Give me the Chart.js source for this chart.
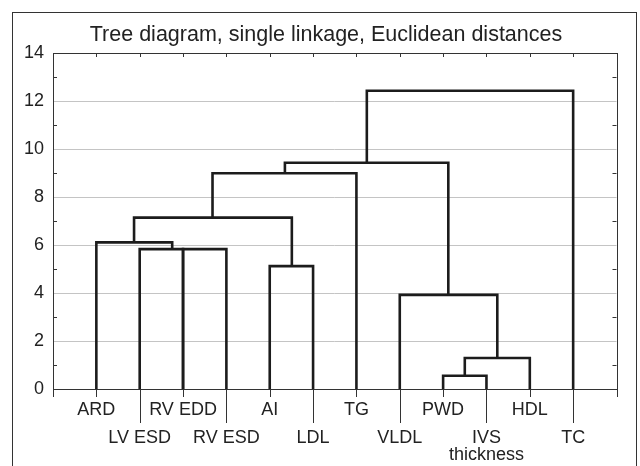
<!DOCTYPE html>
<html>
<head>
<meta charset="utf-8">
<script src="https://cdn.jsdelivr.net/npm/chart.js@4/dist/chart.umd.min.js"></script>
<style>
  html, body { margin: 0; padding: 0; background: #fff; }
  #wrap { width: 640px; height: 466px; }
</style>
</head>
<body>
<div id="wrap"><canvas id="tree" width="640" height="466"></canvas></div>
<script>
const TITLE = "Tree diagram, single linkage, Euclidean distances";
const leafLabels = ["ARD", "LV ESD", "RV EDD", "RV ESD", "AI", "LDL", "TG", "VLDL", "PWD", ["IVS", "thickness"], "HDL", "TC"];
const leafRow = [0, 1, 0, 1, 0, 1, 0, 1, 0, 1, 0, 1];
const yTicks = [0, 2, 4, 6, 8, 10, 12, 14];

// each merge: left/right x (leaf index, or cluster join point), join height, and heights the legs start from
const mergeLeft = [9, 9.5, 8, 2, 3, 1, 5, 1.87, 3.68, 5.35, 7.24];
const mergeRight = [10, 11, 10.25, 3, 4, 2.75, 6, 5.51, 7, 9.12, 12];
const mergeHeight = [0.55, 1.29, 3.92, 5.83, 5.83, 6.11, 5.12, 7.14, 8.99, 9.43, 12.43];
const mergeLeftBase = [0, 0.55, 0, 0, 0, 0, 0, 6.11, 7.14, 8.99, 9.43];
const mergeRightBase = [0, 0, 1.29, 0, 0, 5.83, 0, 5.12, 0, 3.92, 0];

const FONT = '"Liberation Sans", Arial, Helvetica, sans-serif';
const INK = "#222";

const datasets = mergeLeft.map((xl, i) => ({
  data: [
    { x: xl, y: mergeLeftBase[i] },
    { x: xl, y: mergeHeight[i] },
    { x: mergeRight[i], y: mergeHeight[i] },
    { x: mergeRight[i], y: mergeRightBase[i] }
  ],
  showLine: true,
  borderColor: "#1c1c1c",
  borderWidth: 2.6,
  pointRadius: 0,
  tension: 0,
  clip: false
}));

const decor = {
  id: "decor",
  afterDraw(chart) {
    const { ctx, chartArea: a, scales: { x, y } } = chart;
    ctx.save();
    // outer frame
    ctx.strokeStyle = "#333";
    ctx.lineWidth = 1;
    ctx.strokeRect(12.5, 12.5, 624, 480);
    // plot frame
    ctx.strokeRect(Math.round(a.left) + 0.5, Math.round(a.top) + 0.5, Math.round(a.right - a.left), Math.round(a.bottom - a.top));

    ctx.beginPath();
    // minor inward ticks on left/right at odd values
    for (let v = 1; v < 14; v += 2) {
      const py = Math.round(y.getPixelForValue(v)) + 0.5;
      ctx.moveTo(a.left, py); ctx.lineTo(a.left + 4, py);
      ctx.moveTo(a.right, py); ctx.lineTo(a.right - 4, py);
    }
    // top inward ticks at leaves
    leafLabels.forEach((_, i) => {
      const px = Math.round(x.getPixelForValue(i + 1)) + 0.5;
      ctx.moveTo(px, a.top); ctx.lineTo(px, a.top + 4);
    });
    // bottom outward ticks
    [0, 13].forEach(v => {
      const px = Math.round(x.getPixelForValue(v)) + 0.5;
      ctx.moveTo(px, a.bottom); ctx.lineTo(px, a.bottom + 8);
    });
    leafLabels.forEach((_, i) => {
      const px = Math.round(x.getPixelForValue(i + 1)) + 0.5;
      ctx.moveTo(px, a.bottom); ctx.lineTo(px, a.bottom + (leafRow[i] ? 34 : 8));
    });
    ctx.stroke();

    // leaf labels
    ctx.fillStyle = INK;
    ctx.font = "18px " + FONT;
    ctx.textAlign = "center";
    ctx.textBaseline = "middle";
    leafLabels.forEach((lab, i) => {
      const px = x.getPixelForValue(i + 1);
      const lines = Array.isArray(lab) ? lab : [lab];
      const y0 = a.bottom + (leafRow[i] ? 49 : 21);
      lines.forEach((t, k) => ctx.fillText(t, px, y0 + k * 17));
    });

    // title
    ctx.font = "21.5px " + FONT;
    ctx.textBaseline = "alphabetic";
    ctx.fillText(TITLE, 326, 41);
    ctx.restore();
  }
};

new Chart(document.getElementById("tree"), {
  type: "scatter",
  data: { datasets },
  options: {
    responsive: false,
    animation: false,
    layout: { padding: { left: 0, top: 53, right: 23.5, bottom: 77 } },
    plugins: { legend: { display: false }, tooltip: { enabled: false }, title: { display: false } },
    scales: {
      x: { type: "linear", min: 0, max: 13, display: false },
      y: {
        type: "linear", min: 0, max: 14,
        afterFit: s => { s.width = 53; },
        afterBuildTicks: s => { s.ticks = yTicks.map(v => ({ value: v })); },
        ticks: { color: INK, font: { size: 18, family: FONT }, padding: 9 },
        grid: {
          drawTicks: false,
          color: c => (c.tick.value === 0 || c.tick.value === 14) ? "rgba(0,0,0,0)" : "#c4c4c4",
          lineWidth: 1
        },
        border: { display: false }
      }
    }
  },
  plugins: [decor]
});
</script>
</body>
</html>
